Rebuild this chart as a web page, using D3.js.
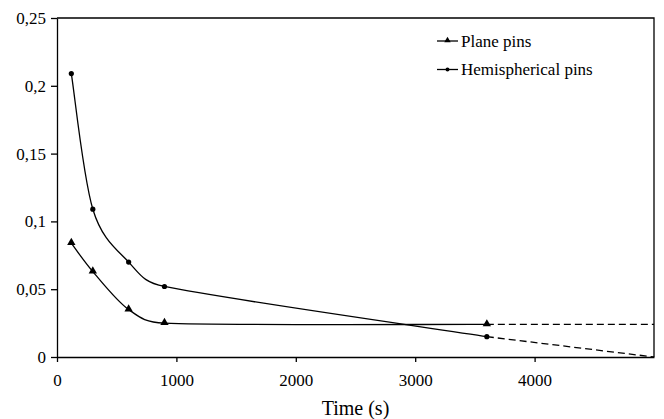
<!DOCTYPE html>
<html>
<head>
<meta charset="utf-8">
<script src="https://cdn.jsdelivr.net/npm/d3@7"></script>
<style>
  body { margin: 0; background: #fff; }
  svg text { font-family: "Liberation Serif", "Times New Roman", serif; fill: #000; }
</style>
</head>
<body>
<svg id="chart"></svg>
<script>
const times = [120, 300, 600, 900, 3600];
const planePins = [0.084, 0.063, 0.035, 0.025, 0.024];
const hemiPins = [0.209, 0.109, 0.070, 0.052, 0.015];
// dashed extrapolation after the last measurement
const extraTimes = [3600, 5000];
const planeExtra = [0.024, 0.024];
const hemiExtra = [0.015, 0.0];

const xTicks = [0, 1000, 2000, 3000, 4000];
const yTicks = [0, 0.05, 0.1, 0.15, 0.2, 0.25];
const yTickLabels = ["0", "0,05", "0,1", "0,15", "0,2", "0,25"];

const svgWidth = 664;
const svgHeight = 419;
const margin = {top: 18, right: 10, bottom: 62, left: 57};
const serif = "Liberation Serif, Times New Roman, serif";

const svg = d3.select("#chart")
    .attr("width", svgWidth)
    .attr("height", svgHeight);

const chartWidth = svgWidth - margin.left - margin.right;
const chartHeight = svgHeight - margin.top - margin.bottom;

const g = svg.append("g")
    .attr("transform", `translate(${margin.left}, ${margin.top})`);

const xScale = d3.scaleLinear().domain([0, 5000]).range([0, chartWidth]);
const yScale = d3.scaleLinear().domain([0, 0.25]).range([chartHeight, 0]);

// frame (top and right)
g.append("path")
    .attr("d", `M0,0H${chartWidth}V${chartHeight}`)
    .attr("fill", "none")
    .attr("stroke", "#000")
    .attr("stroke-width", 1.3);

const xAxis = g.append("g")
    .attr("transform", `translate(0, ${chartHeight})`)
    .call(d3.axisBottom(xScale).tickValues(xTicks).tickSize(5).tickSizeOuter(0).tickPadding(12)
        .tickFormat(d3.format("d")));

const yAxis = g.append("g")
    .call(d3.axisLeft(yScale).tickValues(yTicks).tickSize(6).tickSizeOuter(0).tickPadding(5)
        .tickFormat((d, i) => yTickLabels[i]));

[xAxis, yAxis].forEach((ax) => {
    ax.attr("font-family", serif).attr("font-size", 17);
    ax.selectAll("path, line").attr("stroke", "#000").attr("stroke-width", 1.3);
    ax.selectAll("text").attr("fill", "#000");
});

svg.append("text")
    .attr("x", margin.left + chartWidth / 2)
    .attr("y", 415)
    .attr("text-anchor", "middle")
    .attr("font-family", serif)
    .attr("font-size", 20)
    .text("Time (s)");

// spreadsheet-style smoothing: tangent (P[i+1]-P[i-1])/6, clamped to half a segment
function smoothPath(data)
{
    const p = data.map((d) => [xScale(d[0]), yScale(d[1])]);
    const n = p.length;
    const tan = p.map((pt, i) =>
    {
        const a = p[Math.max(i - 1, 0)];
        const b = p[Math.min(i + 1, n - 1)];
        return [(b[0] - a[0]) / 6, (b[1] - a[1]) / 6];
    });
    const clamp = (t, len) =>
    {
        const l = Math.hypot(t[0], t[1]);
        const k = l > len ? len / l : 1;
        return [t[0] * k, t[1] * k];
    };
    const path = d3.path();
    path.moveTo(p[0][0], p[0][1]);
    for (let i = 0; i < n - 1; i++)
    {
        const seg = Math.hypot(p[i + 1][0] - p[i][0], p[i + 1][1] - p[i][1]) / 2;
        const t0 = clamp(tan[i], seg);
        const t1 = clamp(tan[i + 1], seg);
        path.bezierCurveTo(
            p[i][0] + t0[0], p[i][1] + t0[1],
            p[i + 1][0] - t1[0], p[i + 1][1] - t1[1],
            p[i + 1][0], p[i + 1][1]);
    }
    return path.toString();
}

const straight = d3.line()
    .x((d) => xScale(d[0]))
    .y((d) => yScale(d[1]));

const planeData = times.map((t, i) => [t, planePins[i]]);
const hemiData = times.map((t, i) => [t, hemiPins[i]]);

[planeData, hemiData].forEach((data) => {
    g.append("path")
        .attr("fill", "none")
        .attr("stroke", "#000")
        .attr("stroke-width", 1.3)
        .attr("d", smoothPath(data));
});

[planeExtra, hemiExtra].forEach((vals) => {
    g.append("path")
        .datum(extraTimes.map((t, i) => [t, vals[i]]))
        .attr("fill", "none")
        .attr("stroke", "#000")
        .attr("stroke-width", 1.3)
        .attr("stroke-dasharray", "7,4")
        .attr("d", straight);
});

const triangle = d3.symbol().type(d3.symbolTriangle).size(30);

g.selectAll(".tri")
    .data(planeData)
    .enter()
    .append("path")
    .attr("transform", (d) => `translate(${xScale(d[0])}, ${yScale(d[1]) - 0.5})`)
    .attr("d", triangle)
    .attr("fill", "#000");

g.selectAll(".dot")
    .data(hemiData)
    .enter()
    .append("circle")
    .attr("cx", (d) => xScale(d[0]))
    .attr("cy", (d) => yScale(d[1]))
    .attr("r", 2.6)
    .attr("fill", "#000");

// legend
const legend = svg.append("g").attr("transform", "translate(437, 41)");
const legendItems = ["Plane pins", "Hemispherical pins"];

legendItems.forEach((name, i) => {
    const row = legend.append("g").attr("transform", `translate(0, ${i * 28.5})`);
    row.append("line")
        .attr("x1", 0).attr("x2", 21)
        .attr("stroke", "#000").attr("stroke-width", 1.3);
    if (i === 0) {
        row.append("path")
            .attr("transform", "translate(10.5, -0.5)")
            .attr("d", d3.symbol().type(d3.symbolTriangle).size(18))
            .attr("fill", "#000");
    } else {
        row.append("circle").attr("cx", 10.5).attr("r", 2).attr("fill", "#000");
    }
    row.append("text")
        .attr("x", 24)
        .attr("y", 5.5)
        .attr("font-family", serif)
        .attr("font-size", 17)
        .text(name);
});
</script>
</body>
</html>
